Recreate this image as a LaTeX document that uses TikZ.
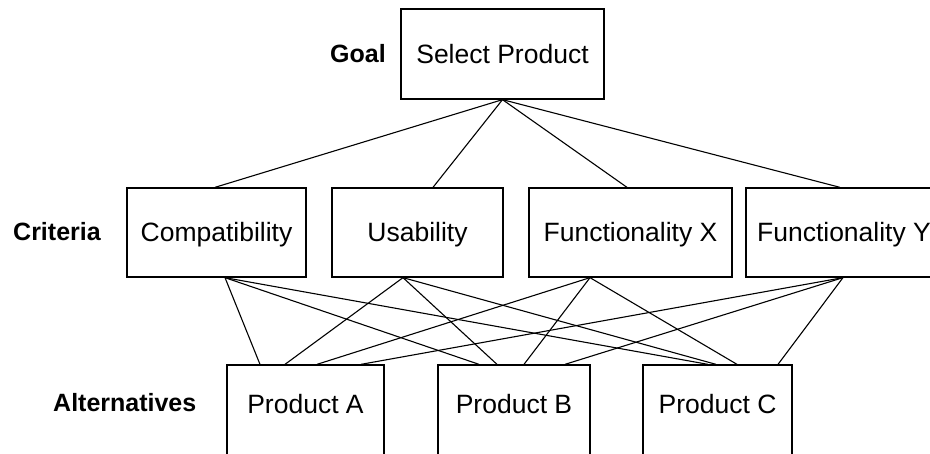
\documentclass[tikz,border=0pt]{standalone}
\usepackage{fontspec}
\setmainfont{Liberation Sans}
\begin{document}
\begin{tikzpicture}[x=1pt,y=-1pt,
  box/.style={draw, line width=1.3pt, inner sep=0pt,
    font=\fontsize{26.5}{30}\selectfont, text height=19pt, text depth=0pt},
  altbox/.style={box, anchor=base, text height=49pt, text depth=46pt},
  tier/.style={font=\bfseries\fontsize{25}{30}\selectfont, inner sep=0pt,
    text height=18pt, text depth=0pt},
  link/.style={line width=1.1pt}]
\useasboundingbox (0,0) rectangle (930,454);

% level labels
\node[tier, anchor=east] (lgoal) at (386,54) {Goal};
\node[tier, anchor=west] (lcrit) at (13,232) {Criteria};
\node[tier, anchor=west] (lalt)  at (53,403) {Alternatives};

% goal
\node[box, minimum width=203pt, minimum height=90pt] (goal) at (502.5,54) {Select Product};

% criteria
\node[box, minimum width=179pt, minimum height=89pt] (comp) at (216.5,232.5) {Compatibility};
\node[box, minimum width=171pt, minimum height=89pt] (usab) at (417.5,232.5) {Usability};
\node[box, minimum width=203pt, minimum height=89pt] (fx)   at (630.5,232.5) {Functionality X};
\node[box, minimum width=196pt, minimum height=89pt] (fy)   at (844,232.5)   {Functionality Y};

% alternatives
\node[altbox, minimum width=157pt] (pa) at (305.5,414) {Product A};
\node[altbox, minimum width=152pt] (pb) at (514,414)   {Product B};
\node[altbox, minimum width=149pt] (pc) at (717.5,414) {Product C};

% goal to criteria
\draw[link] (goal.south) -- ([xshift=-1.5pt]comp.north);
\draw[link] (goal.south) -- ([xshift=15.5pt]usab.north);
\draw[link] (goal.south) -- ([xshift=-3.5pt]fx.north);
\draw[link] (goal.south) -- ([xshift=-4pt]fy.north);

% criteria to alternatives
\draw[link] ([xshift=8.5pt]comp.south) -- ([xshift=-45.5pt]pa.north);
\draw[link] ([xshift=8.5pt]comp.south) -- ([xshift=-35pt]pb.north);
\draw[link] ([xshift=8.5pt]comp.south) -- ([xshift=-9.5pt]pc.north);

\draw[link] ([xshift=-14.5pt]usab.south) -- ([xshift=-20.5pt]pa.north);
\draw[link] ([xshift=-14.5pt]usab.south) -- ([xshift=-17pt]pb.north);
\draw[link] ([xshift=-14.5pt]usab.south) -- ([xshift=-1.5pt]pc.north);

\draw[link] ([xshift=-40.5pt]fx.south) -- ([xshift=11.5pt]pa.north);
\draw[link] ([xshift=-40.5pt]fx.south) -- ([xshift=10pt]pb.north);
\draw[link] ([xshift=-40.5pt]fx.south) -- ([xshift=19.5pt]pc.north);

\draw[link] ([xshift=-1pt]fy.south) -- ([xshift=55.5pt]pa.north);
\draw[link] ([xshift=-1pt]fy.south) -- ([xshift=51pt]pb.north);
\draw[link] ([xshift=-1pt]fy.south) -- ([xshift=60.5pt]pc.north);
\end{tikzpicture}
\end{document}
